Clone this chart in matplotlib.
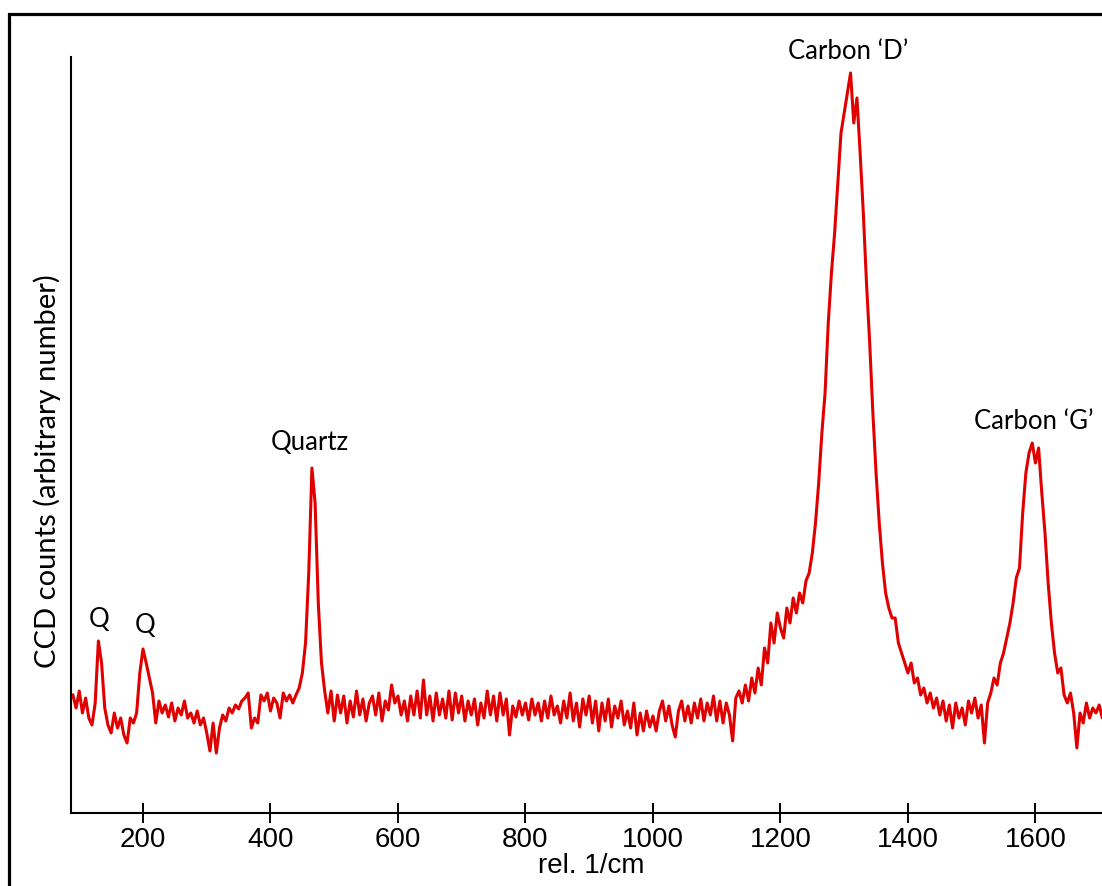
import numpy as np
import matplotlib
matplotlib.use("Agg")
import matplotlib.pyplot as plt
from matplotlib.patches import Rectangle

# Raman shift grid (rel. 1/cm), one reading every 5 cm-1
shift = np.arange(90, 1711, 5)

# CCD counts (arbitrary units)
counts = [
    118, 105, 122, 100, 115, 95, 88, 110, 172, 150,
    105, 88, 80, 100, 85, 95, 78, 70, 95, 90,
    100, 140, 164, 150, 135, 120, 90, 112, 100, 108,
    96, 110, 92, 105, 98, 112, 95, 100, 90, 102,
    88, 95, 80, 62, 90, 60, 85, 98, 92, 105,
    100, 108, 104, 112, 115, 120, 85, 95, 90, 118,
    112, 120, 102, 115, 110, 95, 120, 112, 118, 110,
    118, 125, 140, 170, 240, 345, 310, 210, 150, 122,
    100, 122, 92, 118, 100, 117, 90, 112, 96, 122,
    98, 114, 92, 110, 117, 98, 120, 92, 112, 103,
    128, 110, 117, 98, 112, 92, 117, 98, 122, 95,
    133, 98, 117, 92, 120, 98, 114, 95, 122, 93,
    120, 100, 117, 92, 112, 98, 114, 88, 110, 95,
    122, 98, 117, 92, 120, 98, 114, 78, 107, 96,
    112, 98, 110, 93, 114, 98, 110, 92, 112, 95,
    117, 98, 107, 90, 112, 95, 120, 92, 110, 86,
    114, 98, 117, 90, 112, 82, 110, 92, 114, 86,
    107, 95, 112, 88, 102, 85, 110, 78, 100, 82,
    102, 86, 97, 82, 102, 112, 92, 107, 88, 76,
    102, 112, 92, 107, 90, 110, 95, 114, 92, 110,
    98, 117, 92, 112, 90, 110, 98, 72, 115, 122,
    110, 128, 112, 135, 120, 145, 128, 165, 150, 190,
    170, 200, 185, 175, 205, 190, 215, 200, 220, 210,
    232, 240, 260, 290, 330, 380, 420, 490, 540, 580,
    630, 680, 700, 720, 740, 690, 715, 660, 600, 530,
    470, 400, 340, 290, 250, 220, 205, 195, 195, 170,
    160, 150, 140, 150, 130, 135, 118, 125, 110, 120,
    105, 115, 98, 112, 92, 108, 85, 110, 95, 105,
    88, 112, 100, 115, 95, 108, 70, 110, 120, 135,
    128, 150, 160, 175, 190, 210, 235, 245, 300, 340,
    360, 370, 350, 365, 320, 280, 230, 190, 160, 140,
    145, 118, 110, 120, 100, 65, 100, 90, 110, 95,
    105, 100, 108, 95, 102,
]

peak_labels = ["Q", "Q", "Quartz", "Carbon \u2018D\u2019", "Carbon \u2018G\u2019"]
peak_x = [131, 203, 462, 1306, 1598]
peak_y = [193, 187, 370, 761, 391]

xticks = [200, 400, 600, 800, 1000, 1200, 1400, 1600]

fig = plt.figure(figsize=(11.02, 8.86), dpi=100)
ax = fig.add_axes([0.0644, 0.0824, 0.9446, 0.8533])

ax.plot(shift, counts, color="#e00000", lw=2.2)

ax.set_xlim(87, 1720)
ax.set_ylim(0, 756)
ax.set_xticks(xticks)
ax.set_yticks([])
ax.spines["top"].set_visible(False)
ax.spines["right"].set_visible(False)
for s in ["left", "bottom"]:
    ax.spines[s].set_linewidth(1.5)
ax.tick_params(axis="x", direction="inout", length=14, width=1.4, pad=3,
               labelsize=20)
for lab in ax.get_xticklabels():
    lab.set_family("Liberation Sans")
ax.set_xlabel("rel. 1/cm", fontsize=20, family="Liberation Sans", labelpad=0)

fig.text(47 / 1102, 1 - 471 / 886, "CCD counts (arbitrary number)",
         rotation=90, ha="center", va="center", fontsize=21, family="Lato")

for lab, px, py in zip(peak_labels, peak_x, peak_y):
    ax.text(px, py, lab, ha="center", va="center", fontsize=18.5,
            family="Lato", clip_on=False)

# outer frame (cut off at right and bottom)
fig.add_artist(Rectangle((8.5 / 1102, -0.1), 1.2, 1 - 13.5 / 886 + 0.1,
                         transform=fig.transFigure, fill=False,
                         lw=2.3, ec="black"))

fig.savefig("out.png", dpi=100)
